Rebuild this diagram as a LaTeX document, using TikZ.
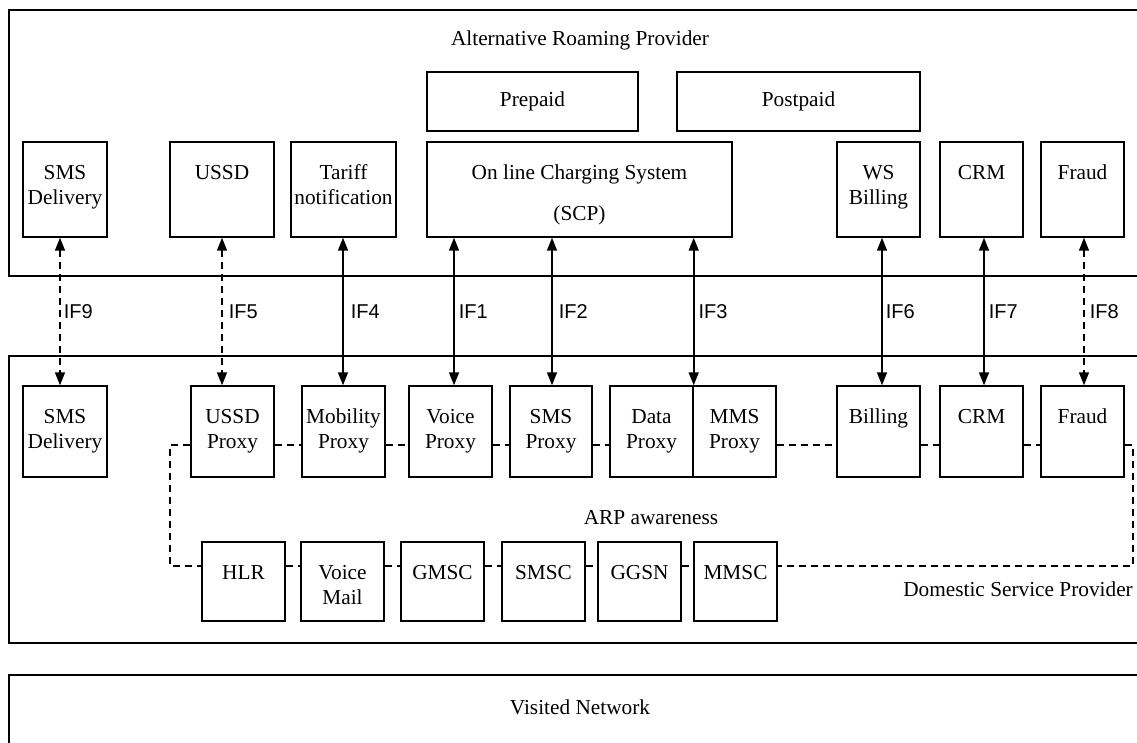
\documentclass[tikz,border=0pt]{standalone}
\usepackage{fontspec}
\setmainfont{Liberation Serif}
\newfontfamily\labfont{Liberation Sans}
\usetikzlibrary{arrows.meta,calc}
\tikzset{
  box/.style={draw, line width=1.4pt, rectangle, inner sep=0pt},
  area/.style={draw, line width=1.4pt},
  txt/.style={anchor=north, inner sep=0pt, align=center, font=\fontsize{21.3}{25.5}\selectfont},
  ctxt/.style={inner sep=0pt, font=\fontsize{21.3}{25.5}\selectfont},
  iflab/.style={anchor=west, inner sep=0pt, font=\labfont\fontsize{20}{24}\selectfont},
  twoway/.style={line width=1.6pt, {Triangle[length=13pt,width=10pt]}-{Triangle[length=13pt,width=10pt]}},
  dashlink/.style={line width=1.5pt, dash pattern=on 7pt off 5pt},
}
\newcommand\mybox[6]{%
  \node[box, minimum width=#4pt, minimum height=#5pt] (#1) at (#2,#3) {};
  \node[txt] (#1t) at ([yshift=-20pt]#1.north) {#6};}
\begin{document}
\begin{tikzpicture}[x=1pt,y=-1pt]
\useasboundingbox (0,0) rectangle (1137,742);
\clip (0,0) rectangle (1137,742);
% areas
\draw[area] (9,10) rectangle (1160,276);
\draw[area] (9,356) rectangle (1160,643);
\draw[area] (9,675) rectangle (1160,770);
\node[ctxt] (arp) at (580,40) {Alternative Roaming Provider};
\node[ctxt] (dsp) [anchor=east] at (1133,589) {Domestic Service Provider};
\node[ctxt] (vn) at (580,707) {Visited Network};
\node[ctxt] (aware) at (651,518) {ARP awareness};
% ARP boxes
\node[box, ctxt, minimum width=211pt, minimum height=59pt] (pre) at (532.5,101.5) {Prepaid};
\node[box, ctxt, minimum width=243pt, minimum height=59pt] (post) at (798.5,101.5) {Postpaid};
\mybox{tSMS}{65}{189.5}{84}{95}{\strut SMS\\\strut Delivery}
\mybox{tUSSD}{222}{189.5}{104}{95}{\strut USSD}
\mybox{tTariff}{343.5}{189.5}{105}{95}{\strut Tariff\\\strut notification}
\mybox{OCS}{579.5}{189.5}{305}{95}{\strut On line Charging System\\[16pt]\strut (SCP)}
\mybox{WSB}{878.5}{189.5}{83}{95}{\strut WS\\\strut Billing}
\mybox{tCRM}{981.5}{189.5}{83}{95}{\strut CRM}
\mybox{tFraud}{1082.5}{189.5}{83}{95}{\strut Fraud}
% domestic row 1
\mybox{bSMS}{65}{431.5}{84}{91}{\strut SMS\\\strut Delivery}
\mybox{uP}{232.5}{431.5}{83}{91}{\strut USSD\\\strut Proxy}
\mybox{mP}{343.5}{431.5}{83}{91}{\strut Mobility\\\strut Proxy}
\mybox{vP}{450.5}{431.5}{83}{91}{\strut Voice\\\strut Proxy}
\mybox{sP}{551}{431.5}{82}{91}{\strut SMS\\\strut Proxy}
\mybox{dP}{651.5}{431.5}{83}{91}{\strut Data\\\strut Proxy}
\mybox{mmP}{734.5}{431.5}{83}{91}{\strut MMS\\\strut Proxy}
\mybox{bill}{878.5}{431.5}{83}{91}{\strut Billing}
\mybox{bCRM}{981.5}{431.5}{83}{91}{\strut CRM}
\mybox{bFraud}{1082.5}{431.5}{83}{91}{\strut Fraud}
% domestic row 2
\mybox{HLR}{243.5}{581.5}{83}{79}{\strut HLR}
\mybox{VM}{342.5}{581.5}{83}{79}{\strut Voice\\\strut Mail}
\mybox{GMSC}{442.5}{581.5}{83}{79}{\strut GMSC}
\mybox{SMSC}{543.5}{581.5}{83}{79}{\strut SMSC}
\mybox{GGSN}{639.5}{581.5}{83}{79}{\strut GGSN}
\mybox{MMSC}{735.5}{581.5}{83}{79}{\strut MMSC}
% interfaces
\draw[twoway, dashlink] ([xshift=-5pt]tSMS.south) -- node[iflab, xshift=3pt] (l9) {IF9} ([xshift=-5pt]bSMS.north);
\draw[twoway, dashlink] (tUSSD.south) -- node[iflab, xshift=6pt] (l5) {IF5} (tUSSD.south |- uP.north);
\draw[twoway] ([xshift=-0.5pt]tTariff.south) -- node[iflab, xshift=7pt] (l4) {IF4} ([xshift=-0.5pt]mP.north);
\draw[twoway] ($(vP.north |- OCS.south)+(3.5,0)$) -- node[iflab, xshift=4pt] (l1) {IF1} ($(vP.north)+(3.5,0)$);
\draw[twoway] ($(sP.north |- OCS.south)+(1,0)$) -- node[iflab, xshift=6pt] (l2) {IF2} ($(sP.north)+(1,0)$);
\draw[twoway] (dP.north east |- OCS.south) -- node[iflab, xshift=4pt] (l3) {IF3} (dP.north east);
\draw[twoway] ([xshift=3.5pt]WSB.south) -- node[iflab, xshift=3pt] (l6) {IF6} ([xshift=3.5pt]bill.north);
\draw[twoway] ([xshift=2.5pt]tCRM.south) -- node[iflab, xshift=4pt] (l7) {IF7} ([xshift=2.5pt]bCRM.north);
\draw[twoway, dashlink] ([xshift=1.5pt]tFraud.south) -- node[iflab, xshift=5pt] (l8) {IF8} ([xshift=1.5pt]bFraud.north);
% ARP awareness dashed bus
\coordinate (cL) at (170,566);
\coordinate (cR) at (1133,566);
\draw[dashlink] ([yshift=-13.5pt]uP.west) -| (cL) -- ([yshift=15.5pt]HLR.west);
\draw[dashlink] ([yshift=-13.5pt]uP.east) -- ([yshift=-13.5pt]mP.west);
\draw[dashlink] ([yshift=-13.5pt]mP.east) -- ([yshift=-13.5pt]vP.west);
\draw[dashlink] ([yshift=-13.5pt]vP.east) -- ([yshift=-13.5pt]sP.west);
\draw[dashlink] ([yshift=-13.5pt]sP.east) -- ([yshift=-13.5pt]dP.west);
\draw[dashlink] ([yshift=-13.5pt]mmP.east) -- ([yshift=-13.5pt]bill.west);
\draw[dashlink] ([yshift=-13.5pt]bill.east) -- ([yshift=-13.5pt]bCRM.west);
\draw[dashlink] ([yshift=-13.5pt]bCRM.east) -- ([yshift=-13.5pt]bFraud.west);
\draw[dashlink] ([yshift=-13.5pt]bFraud.east) -| (cR) -- ([yshift=15.5pt]MMSC.east);
\draw[dashlink] ([yshift=15.5pt]HLR.east) -- ([yshift=15.5pt]VM.west);
\draw[dashlink] ([yshift=15.5pt]VM.east) -- ([yshift=15.5pt]GMSC.west);
\draw[dashlink] ([yshift=15.5pt]GMSC.east) -- ([yshift=15.5pt]SMSC.west);
\draw[dashlink] ([yshift=15.5pt]SMSC.east) -- ([yshift=15.5pt]GGSN.west);
\draw[dashlink] ([yshift=15.5pt]GGSN.east) -- ([yshift=15.5pt]MMSC.west);
\end{tikzpicture}
\end{document}
